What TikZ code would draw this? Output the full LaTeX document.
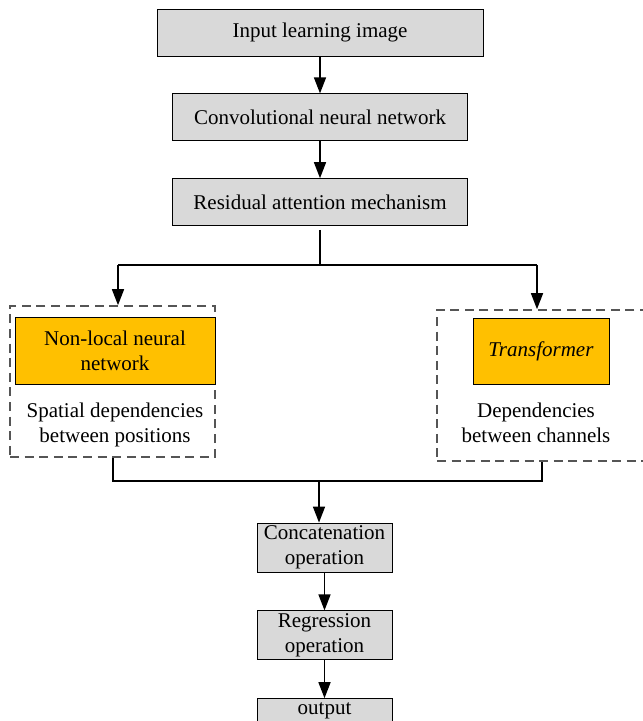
\documentclass[tikz,border=0pt]{standalone}
\usepackage{fontspec}
\setmainfont{Liberation Serif}
\usetikzlibrary{arrows.meta,positioning}
\definecolor{flowGray}{RGB}{217, 217, 217}
\definecolor{flowOrange}{RGB}{255, 192, 0}
\definecolor{groupGray}{RGB}{85, 85, 85}

\begin{document}
\begin{tikzpicture}[
  x=0.5pt, y=-0.5pt,
  node distance=18.5pt,
  every node/.style={font=\fontsize{10.5pt}{12.6pt}\selectfont},
  box/.style={draw, fill=flowGray, align=center, minimum height=23.5pt, inner sep=1pt},
  hotbox/.style={draw, fill=flowOrange, align=center, inner sep=1pt},
  group/.style={draw=groupGray, line width=0.8pt, dash pattern=on 4.5pt off 2.8pt},
  arrow/.style={-{Triangle[length=8pt,width=6pt]}, line width=0.75pt},
  link/.style={line width=0.75pt}
]
\useasboundingbox (0,0) rectangle (642,721);

% main chain
\node[box, minimum width=163pt] (input) at (320,32.5) {Input learning image};
\node[box, minimum width=147.5pt, below=of input] (cnn) {Convolutional neural network};
\node[box, minimum width=147.5pt, below=of cnn] (ram) {Residual attention mechanism};

% two branches
\node[group, minimum width=102.5pt, minimum height=75.5pt] (nlgroup) at (112.5,381.5) {};
\node[hotbox, minimum width=100pt, minimum height=33.5pt] (nonlocal) at (115,350.5) {Non-local neural\\network};
\node[align=center] (spatial) at (115,425) {Spatial dependencies\\between positions};

\node[group, minimum width=106.5pt, minimum height=75.5pt] (trgroup) at (543.5,385.5) {};
\node[hotbox, minimum width=68pt, minimum height=33pt] (transformer) at (541,351) {\textit{Transformer}};
\node[align=center] (channels) at (536,423) {Dependencies\\between channels};

% lower chain
\node[box, minimum width=67.5pt, minimum height=24.5pt] (concat) at (324.5,547.5) {Concatenation\\operation};
\node[box, minimum width=67.5pt, minimum height=24.5pt, below=19pt of concat] (regr) {Regression\\operation};
\node[box, minimum width=67.5pt, text height=7pt, text depth=15.5pt, below=19pt of regr] (output) {output};

\coordinate (split) at (320,265);
\coordinate (lsplit) at (118,265);
\coordinate (rsplit) at (537,265);
\coordinate (lmerge) at (113,481);
\coordinate (rmerge) at (542,481);
\coordinate (merge) at (319,481);

\draw[arrow] (input) -- (cnn);
\draw[arrow] (cnn) -- (ram);
\draw[link] (ram.south |- 0,230) -- (split);
\draw[link] (lsplit) -- (rsplit);
\draw[arrow] (lsplit) -- (lsplit |- nlgroup.north);
\draw[arrow] (rsplit) -- (rsplit |- trgroup.north);
\draw[link] (lmerge |- nlgroup.south) -- (lmerge) -- (rmerge) -- (rmerge |- trgroup.south);
\draw[arrow] (merge) -- (merge |- concat.north);
\draw[arrow] (concat) -- (regr);
\draw[arrow] (regr) -- (output);
\end{tikzpicture}
\end{document}
